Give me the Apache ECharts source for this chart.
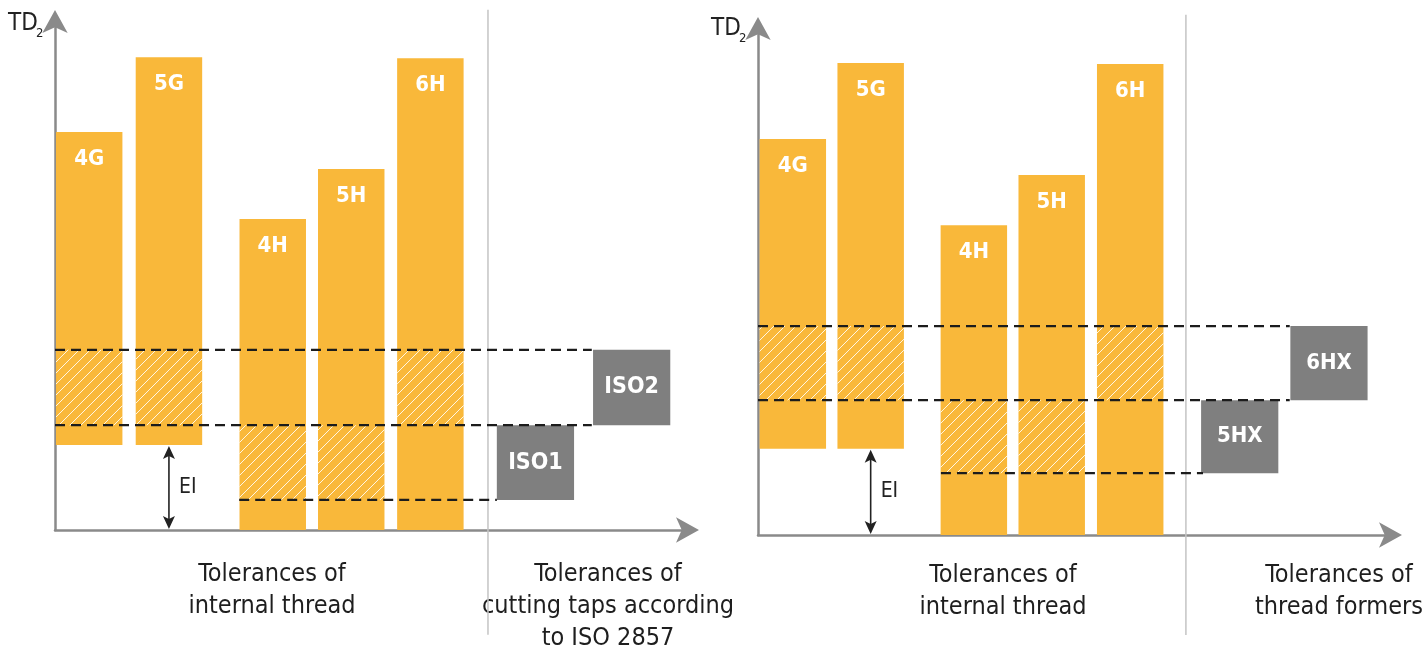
<!DOCTYPE html>
<html>
<head>
<meta charset="utf-8">
<script src="https://cdn.jsdelivr.net/npm/echarts@6/dist/echarts.min.js"></script>
<style>
  html, body { margin: 0; padding: 0; background: #fff; }
  #chart { width: 1425px; height: 652px; }
</style>
</head>
<body>
<div id="chart"></div>
<script>
// tolerance classes of the internal thread (same in both panels)
const classes = ['4G', '5G', '4H', '5H', '6H'];

// left panel: cutting taps (ISO 2857)
const leftCenter = [5.4, 18.0, 34.4, 46.8, 59.3];
const leftLow = [16.7, 16.7, 0, 0, 0];
const leftHigh = [78.2, 92.9, 61.1, 70.9, 92.7];
const leftHatch = [[20.6, 35.4], [20.6, 35.4], [5.9, 20.6], [5.9, 20.6], [20.6, 35.4]];
const leftTools = ['ISO1', 'ISO2'];
const leftToolCenter = [75.9, 91.1];
const leftToolRange = [[5.9, 20.6], [20.6, 35.4]];
const leftDash = [[0, 84.8, 35.4], [0, 84.8, 20.6], [29.1, 69.8, 5.9]];
const leftSplit = [68.4, 102.2, -20.6];

// right panel: thread formers
const rightCenter = [5.5, 17.8, 34.1, 46.4, 58.8];
const rightLow = [17.0, 17.0, 0, 0, 0];
const rightHigh = [78.1, 93.1, 61.1, 71.0, 92.9];
const rightHatch = [[26.6, 41.2], [26.6, 41.2], [12.2, 26.6], [12.2, 26.6], [26.6, 41.2]];
const rightTools = ['5HX', '6HX'];
const rightToolCenter = [76.1, 90.2];
const rightToolRange = [[12.2, 26.6], [26.6, 41.2]];
const rightDash = [[0, 84.0, 41.2], [0, 84.0, 26.6], [28.9, 70.3, 12.2]];
const rightSplit = [67.6, 102.6, -19.7];

const FONT = "'DejaVu Sans Condensed', 'Liberation Sans', sans-serif";
const ORANGE = '#f9b83a';
const GREY = '#7f7f7f';
const AXIS = '#8a8a8a';
const BAR_W = 10.5;
const TOOL_W = 12.2;

// white diagonal hatch used over the tolerance zone
function hatchCanvas() {
  const s = 11;
  const c = document.createElement('canvas');
  c.width = s; c.height = s;
  const g = c.getContext('2d');
  g.strokeStyle = 'rgba(255,255,255,0.85)';
  g.lineWidth = 1;
  g.beginPath();
  g.moveTo(0, s); g.lineTo(s, 0);
  g.moveTo(-3, 3); g.lineTo(3, -3);
  g.moveTo(s - 3, s + 3); g.lineTo(s + 3, s - 3);
  g.stroke();
  return c;
}
const hatch = { image: hatchCanvas(), repeat: 'repeat' };

function rectOf(api, c, w, lo, hi) {
  const a = api.coord([c - w / 2, hi]);
  const b = api.coord([c + w / 2, lo]);
  return { x: a[0], y: a[1], width: b[0] - a[0], height: b[1] - a[1] };
}

function panel(i, p) {
  const axes = { xAxisIndex: i, yAxisIndex: i };
  return [
    {
      type: 'custom', ...axes, silent: true,
      data: [p.split],
      renderItem: (params, api) => {
        const a = api.coord([api.value(0), api.value(1)]);
        const b = api.coord([api.value(0), api.value(2)]);
        return { type: 'line', shape: { x1: a[0], y1: a[1], x2: b[0], y2: b[1] },
          style: { stroke: '#c4c4c4', lineWidth: 1.5 } };
      }
    },
    {
      type: 'custom', ...axes, silent: true,
      data: classes.map((c, k) => [p.center[k], p.low[k], p.high[k]]),
      renderItem: (params, api) => {
        const r = rectOf(api, api.value(0), BAR_W, api.value(1), api.value(2));
        return { type: 'group', children: [
          { type: 'rect', shape: r, style: { fill: ORANGE } },
          { type: 'text', x: r.x + r.width / 2, y: r.y + 27,
            style: { text: classes[params.dataIndex], fill: '#fff', font: 'bold 22px ' + FONT,
              align: 'center', verticalAlign: 'middle' } }
        ] };
      }
    },
    {
      type: 'custom', ...axes, silent: true,
      data: p.hatch.map((h, k) => [p.center[k], h[0], h[1]]),
      renderItem: (params, api) => ({
        type: 'rect', shape: rectOf(api, api.value(0), BAR_W, api.value(1), api.value(2)),
        style: { fill: hatch }
      })
    },
    {
      type: 'custom', ...axes, silent: true,
      data: p.tools.map((t, k) => [p.toolCenter[k], p.toolRange[k][0], p.toolRange[k][1]]),
      renderItem: (params, api) => {
        const r = rectOf(api, api.value(0), TOOL_W, api.value(1), api.value(2));
        return { type: 'group', children: [
          { type: 'rect', shape: r, style: { fill: GREY } },
          { type: 'text', x: r.x + r.width / 2, y: r.y + r.height / 2,
            style: { text: p.tools[params.dataIndex], fill: '#fff', font: 'bold ' + p.toolFont + 'px ' + FONT,
              align: 'center', verticalAlign: 'middle' } }
        ] };
      }
    },
    {
      type: 'custom', ...axes, silent: true,
      data: p.dash,
      renderItem: (params, api) => {
        const a = api.coord([api.value(0), api.value(2)]);
        const b = api.coord([api.value(1), api.value(2)]);
        return { type: 'line', shape: { x1: a[0], y1: a[1], x2: b[0], y2: b[1] },
          style: { stroke: '#1c1c1c', lineWidth: 2.3, lineDash: [10, 6] } };
      }
    },
    {
      // EI: fundamental deviation, from the axis to the G bars
      type: 'custom', ...axes, silent: true,
      data: [[p.center[1], 0, p.low[1]]],
      renderItem: (params, api) => {
        const t = api.coord([api.value(0), api.value(2)]);
        const b = api.coord([api.value(0), api.value(1)]);
        const x = t[0], y1 = t[1] + 1, y2 = b[1] - 1;
        return { type: 'group', children: [
          { type: 'line', shape: { x1: x, y1: y1 + 6, x2: x, y2: y2 - 6 },
            style: { stroke: '#222', lineWidth: 1.6 } },
          { type: 'polygon', shape: { points: [[x, y1], [x - 6, y1 + 13], [x, y1 + 10], [x + 6, y1 + 13]] },
            style: { fill: '#222' } },
          { type: 'polygon', shape: { points: [[x, y2], [x - 6, y2 - 13], [x, y2 - 10], [x + 6, y2 - 13]] },
            style: { fill: '#222' } },
          { type: 'text', x: x + 10, y: (y1 + y2) / 2,
            style: { text: 'EI', fill: '#222', font: '21px ' + FONT, align: 'left', verticalAlign: 'middle' } }
        ] };
      }
    }
  ];
}

const axisLine = {
  show: true, onZero: false, symbol: ['none', 'arrow'], symbolSize: [19, 23], symbolOffset: [0, 11],
  lineStyle: { color: AXIS, width: 2.5 }
};
const axisBase = {
  type: 'value', min: 0, max: 100, axisLine,
  axisTick: { show: false }, axisLabel: { show: false }, splitLine: { show: false }
};

const left = { center: leftCenter, low: leftLow, high: leftHigh, hatch: leftHatch, tools: leftTools,
  toolCenter: leftToolCenter, toolRange: leftToolRange, dash: leftDash, split: leftSplit, toolFont: 23 };
const right = { center: rightCenter, low: rightLow, high: rightHigh, hatch: rightHatch, tools: rightTools,
  toolCenter: rightToolCenter, toolRange: rightToolRange, dash: rightDash, split: rightSplit, toolFont: 22 };

function caption(x, y, text) {
  return { type: 'text', x, y, style: { text, font: '25px ' + FONT, fill: '#1e1e1e',
    align: 'center', verticalAlign: 'top', lineHeight: 32 } };
}

const myChart = echarts.init(document.getElementById('chart'));
myChart.setOption({
  animation: false,
  grid: [
    { left: 55, top: 21, width: 633, bottom: 122 },
    { left: 758, top: 28, width: 633, bottom: 117 }
  ],
  xAxis: [{ ...axisBase, gridIndex: 0 }, { ...axisBase, gridIndex: 1 }],
  yAxis: [{ ...axisBase, gridIndex: 0 }, { ...axisBase, gridIndex: 1 }],
  series: [...panel(0, left), ...panel(1, right)],
  graphic: [
    { type: 'text', x: 8, y: 12, style: { text: 'TD', font: '24px ' + FONT, fill: '#222' } },
    { type: 'text', x: 36, y: 27, style: { text: '2', font: '13px ' + FONT, fill: '#222' } },
    { type: 'text', x: 711, y: 17, style: { text: 'TD', font: '24px ' + FONT, fill: '#222' } },
    { type: 'text', x: 739, y: 32, style: { text: '2', font: '13px ' + FONT, fill: '#222' } },
    caption(272, 558, 'Tolerances of\ninternal thread'),
    caption(608, 558, 'Tolerances of\ncutting taps according\nto ISO 2857'),
    caption(1003, 559, 'Tolerances of\ninternal thread'),
    caption(1339, 559, 'Tolerances of\nthread formers')
  ]
});
window.addEventListener('resize', () => { myChart.resize(); });
</script>
</body>
</html>
